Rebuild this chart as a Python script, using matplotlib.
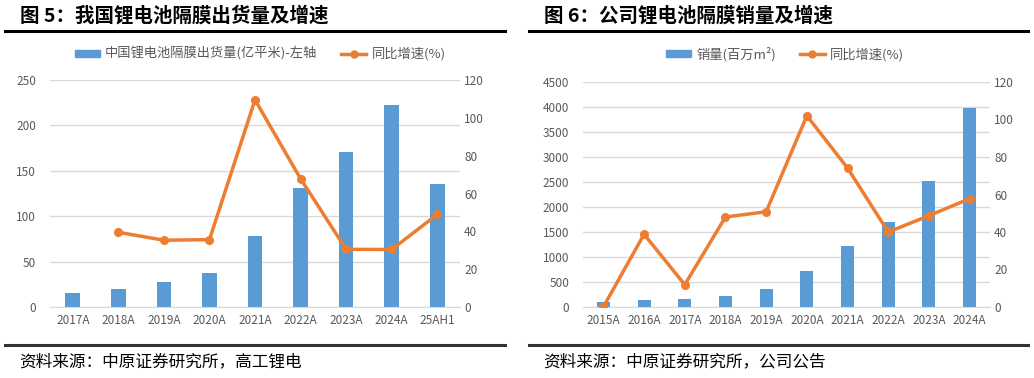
import matplotlib
matplotlib.use("Agg")
import matplotlib.pyplot as plt
from matplotlib.lines import Line2D
from matplotlib.patches import Patch
import numpy as np

plt.rcParams['font.family'] = ['Noto Sans CJK SC', 'DejaVu Sans']

# -----------------------------
# Data
# -----------------------------
# 图5: 我国锂电池隔膜出货量及增速
cats_cn = ["2017A", "2018A", "2019A", "2020A", "2021A", "2022A", "2023A", "2024A", "25AH1"]
ship_cn = [15, 20, 27, 37, 78, 131, 171, 222, 136]
growth_cn = [np.nan, 39.5, 35.3, 35.6, 109.5, 67.8, 30.5, 30.4, 48.9]

# 图6: 公司锂电池隔膜销量及增速
cats_co = ["2015A", "2016A", "2017A", "2018A", "2019A", "2020A", "2021A", "2022A", "2023A", "2024A"]
sales_co = [100, 147, 160, 227, 353, 713, 1213, 1707, 2520, 3980]
growth_co = [0, 38.8, 11.9, 48.0, 50.8, 102.0, 74.1, 40.0, 48.7, 57.8]

BLUE = "#5b9bd5"
ORANGE = "#ed7d31"
GRID = "#d9d9d9"
TICK = "#595959"

W, H = 1034, 378
fig = plt.figure(figsize=(W / 100, H / 100), dpi=100)


def fx(px):
    return px / W


def fy(py):
    return 1 - py / H


def panel(rect, cats, bars, line, ymax, ystep, bar_label, title, src, xl, xr, leg_x):
    ax = fig.add_axes(rect)
    x = np.arange(len(cats))
    ax.bar(x, bars, width=0.32, color=BLUE, zorder=2)
    ax.set_xlim(-0.5, len(cats) - 0.5)
    ax.set_ylim(0, ymax)
    ax.set_yticks(np.arange(0, ymax + 1, ystep))
    ax.set_xticks(x)
    ax.set_xticklabels(cats)
    ax.yaxis.grid(True, color=GRID, linewidth=1, zorder=0)
    for s in ax.spines.values():
        s.set_visible(False)
    ax.spines['bottom'].set_visible(True)
    ax.spines['bottom'].set_color(GRID)
    ax.tick_params(length=0, colors=TICK, labelsize=8.5, pad=5)
    ax.tick_params(axis='y', pad=10)

    ax2 = ax.twinx()
    ax2.plot(x, line, color=ORANGE, linewidth=2.5, marker='o', markersize=5.5, zorder=3)
    ax2.set_ylim(0, 120)
    ax2.set_yticks(np.arange(0, 121, 20))
    for s in ax2.spines.values():
        s.set_visible(False)
    ax2.tick_params(length=0, colors=TICK, labelsize=8.5, pad=3)

    # legend
    handles = [Patch(color=BLUE),
               Line2D([0], [0], color=ORANGE, linewidth=2.5, marker='o', markersize=5)]
    fig.legend(handles, [bar_label, "同比增速(%)"], loc='center', bbox_to_anchor=(fx(leg_x), fy(54)),
               ncol=2, frameon=False, fontsize=9.5, labelcolor=TICK, handlelength=1.9,
               handleheight=0.45, columnspacing=1.8, handletextpad=0.4)

    # title, rules and source
    fig.text(fx(xl + 15), fy(16), title, fontsize=14, fontweight='bold', va='center', ha='left', color='black')
    fig.add_artist(Line2D([fx(xl), fx(xr)], [fy(31), fy(31)], color='black', linewidth=2.2))
    fig.add_artist(Line2D([fx(xl), fx(xr)], [fy(345), fy(345)], color='#333333', linewidth=2.2))
    fig.text(fx(xl + 14), fy(362), src, fontsize=12, va='center', ha='left', color='black')
    return ax


panel([fx(50), fy(307), fx(410), (307 - 80) / H], cats_cn, ship_cn, growth_cn, 250, 50,
      "中国锂电池隔膜出货量(亿平米)-左轴", "图 5：我国锂电池隔膜出货量及增速",
      "资料来源：中原证券研究所，高工锂电", 5, 505, 260)

panel([fx(583), fy(307), fx(407), (307 - 82) / H], cats_co, sales_co, growth_co, 4500, 500,
      "销量(百万m²)", "图 6：公司锂电池隔膜销量及增速",
      "资料来源：中原证券研究所，公司公告", 529, 1028, 785)

fig.savefig("out.png", dpi=100)
